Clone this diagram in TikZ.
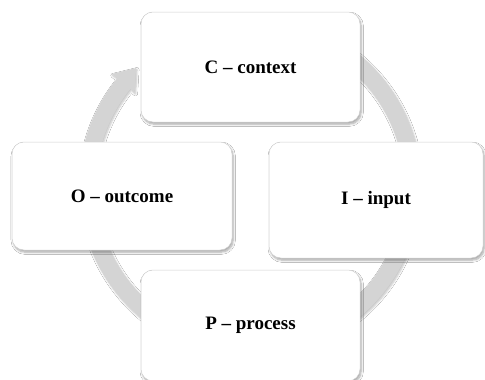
\documentclass[tikz,border=0pt]{standalone}
\usepackage{fontspec}
\setmainfont{Liberation Serif}
\usetikzlibrary{calc,shadows.blur}
\definecolor{ringgray}{HTML}{D4D4D4}
\definecolor{boxline}{HTML}{D0D0D0}
\tikzset{
  stagebox/.style={draw=boxline, line width=0.5pt, fill=white, rounded corners=12pt,
    minimum width=#1, inner sep=0pt, font=\fontsize{19}{21}\selectfont\bfseries,
    blur shadow={shadow xshift=1.2pt, shadow yshift=-2.2pt, shadow blur steps=6, shadow blur radius=2.2pt, shadow opacity=35}},
  ringfill/.style={fill=ringgray,
    blur shadow={shadow xshift=1pt, shadow yshift=-1.5pt, shadow blur steps=5, shadow blur radius=2pt, shadow opacity=25}}
}
\begin{document}
\begin{tikzpicture}[x=1pt,y=1pt]
\useasboundingbox (0,0) rectangle (485,-380);
\fill[white] (0,0) rectangle (485,-380);
\coordinate (c) at (250,-186);
% circular arrow
\path[ringfill]
  ($(c)+(125:171pt)$) arc[start angle=125, end angle=-219, radius=171pt]
  -- ($(c)+(-219:178pt)$) -- ($(c)+(-226:164pt)$) -- ($(c)+(-219:148.5pt)$)
  -- ($(c)+(-219:154pt)$) arc[start angle=-219, end angle=125, radius=154pt] -- cycle;
% boxes
\node[stagebox=219pt, minimum height=110pt] (C) at (250.5,-67) {C -- context};
\node[stagebox=214pt, minimum height=116pt] (I) at (376,-200) {I -- input};
\node[stagebox=220pt, minimum height=108pt] (O) at (122,-196) {O -- outcome};
\node[stagebox=219pt, minimum height=111pt] (P) at (250.5,-325.5) {P -- process};
\end{tikzpicture}
\end{document}
